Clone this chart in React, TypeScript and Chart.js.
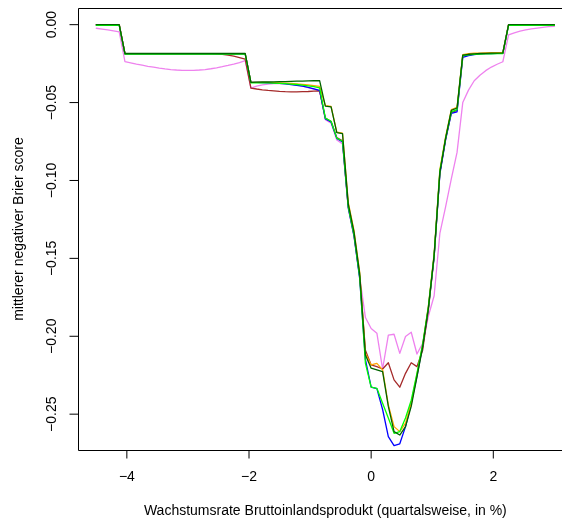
import React, { useEffect, useRef } from "react";
import { Chart, registerables } from "chart.js";

Chart.register(...registerables);

// Growth rate grid (x values)
const growthRates = [
  -4.5, -4.40625, -4.3125, -4.21875, -4.125, -4.03125, -3.9375, -3.84375, -3.75, -3.65625,
  -3.5625, -3.46875, -3.375, -3.28125, -3.1875, -3.09375, -3.0, -2.90625, -2.8125, -2.71875,
  -2.625, -2.53125, -2.4375, -2.34375, -2.25, -2.15625, -2.0625, -1.96875, -1.875, -1.78125,
  -1.6875, -1.59375, -1.5, -1.40625, -1.3125, -1.21875, -1.125, -1.03125, -0.9375, -0.84375,
  -0.75, -0.65625, -0.5625, -0.46875, -0.375, -0.28125, -0.1875, -0.09375, 0, 0.09375,
  0.1875, 0.28125, 0.375, 0.46875, 0.5625, 0.65625, 0.75, 0.84375, 0.9375, 1.03125,
  1.125, 1.21875, 1.3125, 1.40625, 1.5, 1.59375, 1.6875, 1.78125, 1.875, 1.96875,
  2.0625, 2.15625, 2.25, 2.34375, 2.4375, 2.53125, 2.625, 2.71875, 2.8125, 2.90625, 3.0,
];

const seriesDarkgreen = [
  0, 0, 0, 0, 0,
  -0.0185, -0.0185, -0.0185, -0.0185, -0.0185, -0.0185, -0.0185, -0.0185, -0.0185, -0.0185, -0.0185,
  -0.0185, -0.0185, -0.0185, -0.0185, -0.0185, -0.0185, -0.0185, -0.0185, -0.0185, -0.0185, -0.0185,
  -0.0370, -0.0369, -0.0368, -0.0368, -0.0367, -0.0366, -0.0365, -0.0364, -0.0363, -0.0362, -0.0361, -0.0360, -0.0359,
  -0.0523, -0.0527, -0.0693, -0.0700, -0.1150, -0.1330, -0.1600, -0.2120,
  -0.2205, -0.2216, -0.2227, -0.2450, -0.2612, -0.2634, -0.2580, -0.2450, -0.2260, -0.2070,
  -0.1820, -0.1480, -0.0950, -0.0730, -0.0550, -0.0535,
  -0.0195, -0.0190, -0.0187, -0.0185, -0.0184, -0.0183, -0.0182, -0.0181,
  0, 0, 0, 0, 0, 0, 0, 0, 0,
];

const seriesGreen = [
  -0.0004, -0.0004, -0.0004, -0.0004, -0.0004,
  -0.0189, -0.0189, -0.0189, -0.0189, -0.0189, -0.0189, -0.0189, -0.0189, -0.0189, -0.0189, -0.0189,
  -0.0189, -0.0189, -0.0189, -0.0189, -0.0189, -0.0189, -0.0189, -0.0189, -0.0189, -0.0189, -0.0189,
  -0.0373, -0.0373, -0.0373, -0.0374, -0.0375, -0.0377, -0.0379, -0.0381, -0.0384, -0.0388, -0.0393, -0.0398, -0.0405,
  -0.0600, -0.0620, -0.0728, -0.0748, -0.1170, -0.1350, -0.1620, -0.2174,
  -0.2327, -0.2334, -0.2430, -0.2525, -0.2623, -0.2612, -0.2525, -0.2410, -0.2238, -0.2050,
  -0.1810, -0.1480, -0.0940, -0.0730, -0.0560, -0.0545,
  -0.0199, -0.0194, -0.0191, -0.0189, -0.0188, -0.0187, -0.0186, -0.0185,
  -0.0004, -0.0004, -0.0004, -0.0004, -0.0004, -0.0004, -0.0004, -0.0004, -0.0004,
];

const seriesOrange = [
  0, 0, 0, 0, 0,
  -0.0186, -0.0186, -0.0186, -0.0186, -0.0186, -0.0186, -0.0186, -0.0186, -0.0186, -0.0186, -0.0186,
  -0.0186, -0.0186, -0.0186, -0.0186, -0.0186, -0.0186, -0.0186, -0.0186, -0.0186, -0.0186, -0.0186,
  -0.0370, -0.0370, -0.0370, -0.0371, -0.0372, -0.0373, -0.0375, -0.0377, -0.0380, -0.0383, -0.0387, -0.0391, -0.0396,
  -0.0520, -0.0525, -0.0690, -0.0697, -0.1140, -0.1320, -0.1590, -0.2110,
  -0.2184, -0.2174, -0.2216, -0.2440, -0.2580, -0.2612, -0.2558, -0.2430, -0.2245, -0.2055,
  -0.1805, -0.1470, -0.0930, -0.0720, -0.0545, -0.0530,
  -0.0192, -0.0186, -0.0183, -0.0182, -0.0181, -0.0180, -0.0180, -0.0179,
  0, 0, 0, 0, 0, 0, 0, 0, 0,
];

const seriesBlue = [
  -0.0002, -0.0002, -0.0002, -0.0002, -0.0002,
  -0.0187, -0.0187, -0.0187, -0.0187, -0.0187, -0.0187, -0.0187, -0.0187, -0.0187, -0.0187, -0.0187,
  -0.0187, -0.0187, -0.0187, -0.0187, -0.0187, -0.0187, -0.0187, -0.0187, -0.0187, -0.0187, -0.0187,
  -0.0371, -0.0371, -0.0372, -0.0373, -0.0375, -0.0377, -0.0380, -0.0384, -0.0389, -0.0395, -0.0403, -0.0412, -0.0422,
  -0.0605, -0.0625, -0.0730, -0.0752, -0.1175, -0.1355, -0.1630, -0.2150,
  -0.2327, -0.2336, -0.2470, -0.2644, -0.2702, -0.2690, -0.2580, -0.2430, -0.2255, -0.2060,
  -0.1815, -0.1490, -0.0960, -0.0740, -0.0570, -0.0560,
  -0.0210, -0.0198, -0.0192, -0.0188, -0.0186, -0.0185, -0.0184, -0.0183,
  -0.0002, -0.0002, -0.0002, -0.0002, -0.0002, -0.0002, -0.0002, -0.0002, -0.0002,
];

const seriesBrown = [
  0, 0, 0, 0, 0,
  -0.0186, -0.0186, -0.0186, -0.0186, -0.0186, -0.0186, -0.0186, -0.0186, -0.0186, -0.0186, -0.0186,
  -0.0186, -0.0186, -0.0186, -0.0186, -0.0186, -0.0187, -0.0190, -0.0195, -0.0202, -0.0211, -0.0221,
  -0.0407, -0.0413, -0.0418, -0.0422, -0.0425, -0.0428, -0.0430, -0.0431, -0.0431, -0.0430, -0.0429, -0.0427, -0.0425,
  -0.0600, -0.0622, -0.0725, -0.0745, -0.1165, -0.1345, -0.1615, -0.2090,
  -0.2184, -0.2195, -0.2210, -0.2170, -0.2280, -0.2327, -0.2238, -0.2170, -0.2195, -0.2088,
  -0.1830, -0.1490, -0.0950, -0.0735, -0.0565, -0.0550,
  -0.0200, -0.0193, -0.0189, -0.0186, -0.0185, -0.0184, -0.0183, -0.0182,
  0, 0, 0, 0, 0, 0, 0, 0, 0,
];

const seriesViolet = [
  -0.0023, -0.0028, -0.0034, -0.0040, -0.0046,
  -0.0237, -0.0245, -0.0253, -0.0260, -0.0267, -0.0273, -0.0279, -0.0284, -0.0288, -0.0291, -0.0293,
  -0.0294, -0.0293, -0.0291, -0.0288, -0.0283, -0.0277, -0.0270, -0.0262, -0.0253, -0.0243, -0.0231,
  -0.0408, -0.0395, -0.0387, -0.0382, -0.0379, -0.0378, -0.0379, -0.0382, -0.0388, -0.0395, -0.0404, -0.0414, -0.0425,
  -0.0610, -0.0632, -0.0740, -0.0765, -0.1180, -0.1360, -0.1620, -0.1880,
  -0.1950, -0.1980, -0.2210, -0.1992, -0.1987, -0.2110, -0.2002, -0.1974, -0.2114, -0.2045,
  -0.1870, -0.1740, -0.1340, -0.1170, -0.0990, -0.0820,
  -0.0500, -0.0420, -0.0360, -0.0325, -0.0295, -0.0272, -0.0254, -0.0238,
  -0.0066, -0.0052, -0.0042, -0.0034, -0.0027, -0.0022, -0.0017, -0.0013, -0.0010,
];

const xTickValues = [-4, -2, 0, 2];
const xTickLabels = ["\u22124", "\u22122", "0", "2"];
const yTickValues = [0, -0.05, -0.1, -0.15, -0.2, -0.25];
const yTickLabels = ["0.00", "\u22120.05", "\u22120.10", "\u22120.15", "\u22120.20", "\u22120.25"];
const xTitle = "Wachstumsrate Bruttoinlandsprodukt (quartalsweise, in %)";
const yTitle = "mittlerer negativer Brier score";

const FONT = "14px 'Liberation Sans', Arial, Helvetica, sans-serif";

const axesPlugin = {
  id: "rAxes",
  afterDraw(chart: any) {
    const { ctx, chartArea, scales } = chart;
    const { left, right, top, bottom } = chartArea;
    const xs = scales.x;
    const ys = scales.y;
    ctx.save();
    ctx.strokeStyle = "#000";
    ctx.lineWidth = 1;
    // box
    ctx.beginPath();
    ctx.rect(Math.round(left) + 0.5, Math.round(top) + 0.5, right - left, bottom - top);
    ctx.stroke();
    // x ticks
    ctx.beginPath();
    xTickValues.forEach((v) => {
      const px = xs.getPixelForValue(v);
      ctx.moveTo(px, bottom);
      ctx.lineTo(px, bottom + 8.5);
    });
    // y ticks
    yTickValues.forEach((v) => {
      const py = ys.getPixelForValue(v);
      ctx.moveTo(left, py);
      ctx.lineTo(left - 8.5, py);
    });
    ctx.stroke();

    ctx.fillStyle = "#000";
    ctx.font = FONT;
    ctx.textAlign = "center";
    ctx.textBaseline = "middle";
    xTickValues.forEach((v, i) => {
      const px = xs.getPixelForValue(v);
      ctx.fillText(xTickLabels[i], px, bottom + 27);
    });
    ctx.fillText(xTitle, (left + right) / 2, bottom + 61);

    yTickValues.forEach((v, i) => {
      const py = ys.getPixelForValue(v);
      ctx.save();
      ctx.translate(left - 26, py);
      ctx.rotate(-Math.PI / 2);
      ctx.fillText(yTickLabels[i], 0, 0);
      ctx.restore();
    });
    ctx.save();
    ctx.translate(left - 59, (top + bottom) / 2);
    ctx.rotate(-Math.PI / 2);
    ctx.fillText(yTitle, 0, 0);
    ctx.restore();
    ctx.restore();
  },
};

function makeSeries(vals: number[], color: string) {
  return {
    data: growthRates.map((x, i) => ({ x, y: vals[i] })),
    showLine: true,
    borderColor: color,
    backgroundColor: color,
    borderWidth: 1.3,
    pointRadius: 0,
    fill: false,
    tension: 0,
    borderJoinStyle: "round" as const,
    borderCapStyle: "round" as const,
  };
}

export default function App() {
  const canvasRef = useRef<HTMLCanvasElement | null>(null);

  useEffect(() => {
    const canvas = canvasRef.current;
    if (!canvas) return;
    const chart = new Chart(canvas, {
      type: "scatter",
      data: {
        datasets: [
          makeSeries(seriesDarkgreen, "#006400"),
          makeSeries(seriesGreen, "#00FF00"),
          makeSeries(seriesOrange, "#FFA500"),
          makeSeries(seriesBlue, "#0000FF"),
          makeSeries(seriesBrown, "#A52A2A"),
          makeSeries(seriesViolet, "#EE82EE"),
        ],
      },
      options: {
        animation: false,
        responsive: false,
        devicePixelRatio: 1,
        events: [],
        layout: { padding: { left: 78, top: 8, right: 27.3, bottom: 73 } },
        plugins: { legend: { display: false }, tooltip: { enabled: false } },
        scales: {
          x: { type: "linear", min: -4.8, max: 3.3, display: false },
          y: { type: "linear", min: -0.273, max: 0.0107, display: false },
        },
      },
      plugins: [axesPlugin],
    });
    return () => chart.destroy();
  }, []);

  return (
    <div
      style={{
        position: "fixed",
        left: 0,
        top: 0,
        width: 562,
        height: 523,
        overflow: "hidden",
        background: "#fff",
      }}
    >
      <canvas ref={canvasRef} width={600} height={523} style={{ display: "block" }} />
    </div>
  );
}
